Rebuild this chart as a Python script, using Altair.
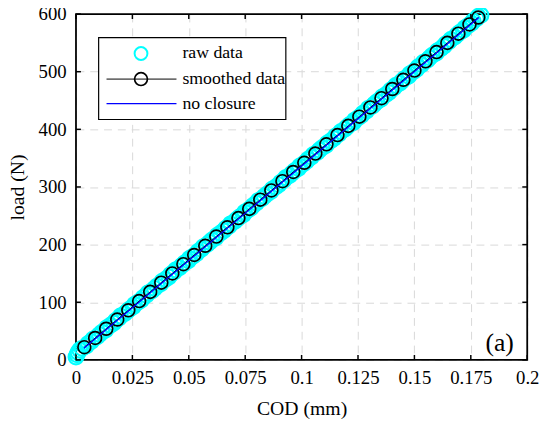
import altair as alt
import pandas as pd

# ---- data ----
raw_cod = [0.0000, 0.0004, 0.0009, 0.0016, 0.0027,
           0.0046, 0.0053, 0.0068, 0.0075, 0.0094, 0.0104, 0.0115, 0.0132, 0.0137, 0.0153,
           0.0168, 0.0175, 0.0190, 0.0197, 0.0215, 0.0226, 0.0237, 0.0254, 0.0259, 0.0275,
           0.0290, 0.0297, 0.0312, 0.0319, 0.0337, 0.0348, 0.0359, 0.0376, 0.0381, 0.0397,
           0.0412, 0.0419, 0.0434, 0.0441, 0.0459, 0.0470, 0.0481, 0.0498, 0.0503, 0.0519,
           0.0534, 0.0541, 0.0556, 0.0563, 0.0581, 0.0592, 0.0603, 0.0620, 0.0625, 0.0641,
           0.0655, 0.0663, 0.0678, 0.0685, 0.0703, 0.0713, 0.0725, 0.0742, 0.0747, 0.0763,
           0.0777, 0.0785, 0.0800, 0.0807, 0.0825, 0.0835, 0.0847, 0.0864, 0.0869, 0.0885,
           0.0899, 0.0907, 0.0922, 0.0929, 0.0947, 0.0957, 0.0969, 0.0986, 0.0991, 0.1007,
           0.1021, 0.1029, 0.1044, 0.1051, 0.1069, 0.1079, 0.1091, 0.1108, 0.1113, 0.1129,
           0.1143, 0.1150, 0.1166, 0.1173, 0.1191, 0.1201, 0.1212, 0.1230, 0.1235, 0.1251,
           0.1265, 0.1272, 0.1288, 0.1295, 0.1313, 0.1323, 0.1334, 0.1352, 0.1357, 0.1373,
           0.1387, 0.1394, 0.1410, 0.1417, 0.1435, 0.1445, 0.1456, 0.1474, 0.1479, 0.1495,
           0.1509, 0.1516, 0.1532, 0.1539, 0.1557, 0.1567, 0.1578, 0.1596, 0.1601, 0.1617,
           0.1631, 0.1638, 0.1653, 0.1661, 0.1679, 0.1689, 0.1700, 0.1717, 0.1723, 0.1739,
           0.1753, 0.1760, 0.1775, 0.1783, 0.1795]
raw_load = [5, 9, 13, 17, 20,
            24, 28, 32, 36, 40, 44, 48, 52, 56, 60,
            64, 68, 72, 76, 80, 84, 88, 92, 96, 100,
            104, 108, 112, 116, 120, 124, 128, 132, 136, 140,
            144, 148, 152, 156, 160, 164, 168, 172, 176, 180,
            184, 188, 192, 196, 200, 204, 208, 212, 216, 220,
            224, 228, 232, 236, 240, 244, 248, 252, 256, 260,
            264, 268, 272, 276, 280, 284, 288, 292, 296, 300,
            304, 308, 312, 316, 320, 324, 328, 332, 336, 340,
            344, 348, 352, 356, 360, 364, 368, 372, 376, 380,
            384, 388, 392, 396, 400, 404, 408, 412, 416, 420,
            424, 428, 432, 436, 440, 444, 448, 452, 456, 460,
            464, 468, 472, 476, 480, 484, 488, 492, 496, 500,
            504, 508, 512, 516, 520, 524, 528, 532, 536, 540,
            544, 548, 552, 556, 560, 564, 568, 572, 576, 580,
            584, 588, 592, 596, 598]

sm_cod = [0.0037, 0.0085, 0.0134, 0.0183, 0.0232, 0.0280, 0.0329, 0.0378, 0.0427, 0.0476,
          0.0524, 0.0573, 0.0622, 0.0671, 0.0720, 0.0768, 0.0817, 0.0866, 0.0915, 0.0963,
          0.1012, 0.1061, 0.1110, 0.1159, 0.1207, 0.1256, 0.1305, 0.1354, 0.1402, 0.1451,
          0.1500, 0.1549, 0.1598, 0.1646, 0.1695, 0.1744, 0.1783]
sm_load = [22, 38, 54, 70, 86, 102, 118, 134, 150, 166,
           182, 198, 214, 230, 246, 262, 278, 294, 310, 326,
           342, 358, 374, 390, 406, 422, 438, 454, 470, 486,
           502, 518, 534, 550, 566, 582, 594]

nc_cod = [0.0035, 0.1786]
nc_load = [20, 594]

x_ticks = [0, 0.025, 0.05, 0.075, 0.1, 0.125, 0.15, 0.175, 0.2]
y_ticks = [0, 100, 200, 300, 400, 500, 600]

legend_labels = ["raw data", "smoothed data", "no closure"]

# ---- layout ----
W, H = 458, 351
FONT = "Liberation Serif"
SZ = 170
xs = alt.Scale(domain=[0, 0.2], nice=False, zero=False)
ys = alt.Scale(domain=[0, 600], nice=False, zero=False)

x_axis = alt.Axis(
    values=x_ticks, labelExpr="'' + datum.value", labelOverlap=False, labelFlush=False,
    grid=True, gridDash=[8, 6], gridColor="#d8d8d8",
    gridWidth=1, ticks=False, domain=False, labelFont=FONT, labelFontSize=19,
    labelColor="black", labelPadding=9, title="COD (mm)", titleFont=FONT,
    titleFontSize=20, titleFontWeight="normal", titleColor="black", titlePadding=11)
y_axis = alt.Axis(
    values=y_ticks, labelOverlap=False, labelFlush=False,
    grid=True, gridDash=[8, 6], gridColor="#d8d8d8",
    gridWidth=1, ticks=False, domain=False, labelFont=FONT, labelFontSize=19,
    labelColor="black", labelPadding=10, title="load (N)", titleFont=FONT,
    titleFontSize=20, titleFontWeight="normal", titleColor="black", titlePadding=11)


def X(f):
    return alt.X(f, scale=xs, axis=x_axis)


def Y(f):
    return alt.Y(f, scale=ys, axis=y_axis)


raw_df = pd.DataFrame({"cod": raw_cod, "load": raw_load})
sm_df = pd.DataFrame({"cod": sm_cod, "load": sm_load})
nc_df = pd.DataFrame({"cod": nc_cod, "load": nc_load})
xt_df = pd.DataFrame({"cod": x_ticks})
yt_df = pd.DataFrame({"load": y_ticks})
one = pd.DataFrame({"a": [0]})

frame = alt.Chart(one).mark_rect(fillOpacity=0, stroke="black", strokeWidth=1.8).encode(
    x=alt.value(0), x2=alt.value(W), y=alt.value(0), y2=alt.value(H))

raw = alt.Chart(raw_df).mark_point(
    shape="circle", filled=False, color="#00ffff", strokeWidth=2.2, size=225, clip=False,
    opacity=1
).encode(x=X("cod:Q"), y=Y("load:Q"))

sm_line = alt.Chart(sm_df).mark_line(color="black", strokeWidth=1).encode(
    x=X("cod:Q"), y=Y("load:Q"))
sm_pts = alt.Chart(sm_df).mark_point(
    shape="circle", filled=False, color="black", strokeWidth=1.7, size=SZ, opacity=1
).encode(x=X("cod:Q"), y=Y("load:Q"))
nc_line = alt.Chart(nc_df).mark_line(color="#0000ff", strokeWidth=1.3).encode(
    x=X("cod:Q"), y=Y("load:Q"))

# inward ticks on all four sides
tx_b = alt.Chart(xt_df).mark_rule(color="black", strokeWidth=1.5).encode(
    x=X("cod:Q"), y=alt.value(H), y2=alt.value(H - 5))
tx_t = alt.Chart(xt_df).mark_rule(color="black", strokeWidth=1.5).encode(
    x=X("cod:Q"), y=alt.value(0), y2=alt.value(5))
ty_l = alt.Chart(yt_df).mark_rule(color="black", strokeWidth=1.5).encode(
    y=Y("load:Q"), x=alt.value(0), x2=alt.value(5))
ty_r = alt.Chart(yt_df).mark_rule(color="black", strokeWidth=1.5).encode(
    y=Y("load:Q"), x=alt.value(W - 5), x2=alt.value(W))

# legend
lg_box = alt.Chart(one).mark_rect(fill="white", stroke="black", strokeWidth=1.2).encode(
    x=alt.value(23), x2=alt.value(213), y=alt.value(24), y2=alt.value(107))
lg_raw = alt.Chart(one).mark_point(
    shape="circle", filled=False, color="#00ffff", strokeWidth=2, size=SZ, opacity=1
).encode(x=alt.value(66), y=alt.value(40))
lg_sm_line = alt.Chart(one).mark_rule(color="black", strokeWidth=1).encode(
    x=alt.value(31), x2=alt.value(102), y=alt.value(66))
lg_sm_pt = alt.Chart(one).mark_point(
    shape="circle", filled=False, color="black", strokeWidth=1.7, size=SZ, opacity=1
).encode(x=alt.value(66), y=alt.value(66))
lg_nc = alt.Chart(one).mark_rule(color="#0000ff", strokeWidth=1.3).encode(
    x=alt.value(31), x2=alt.value(102), y=alt.value(91))
lg_text = alt.Chart(pd.DataFrame({"t": legend_labels, "yy": [40, 66, 91]})).mark_text(
    align="left", baseline="middle", font=FONT, fontSize=18, color="black"
).encode(text="t:N", x=alt.value(108), y=alt.Y("yy:Q", scale=None, axis=None))

panel = alt.Chart(one).mark_text(
    text="(a)", align="center", baseline="middle", font=FONT, fontSize=26, color="black"
).encode(x=alt.value(430), y=alt.value(334))

chart = alt.layer(
    frame, raw, sm_line, sm_pts, nc_line, tx_b, tx_t, ty_l, ty_r,
    lg_box, lg_raw, lg_sm_line, lg_sm_pt, lg_nc, lg_text, panel
).properties(
    width=W, height=H,
    autosize=alt.AutoSizeParams(type="none"),
    padding={"left": 69, "top": 3, "right": 15, "bottom": 67},
).configure_view(stroke=None)

chart.save("out.html", embed_options={"renderer": "svg", "actions": False})
